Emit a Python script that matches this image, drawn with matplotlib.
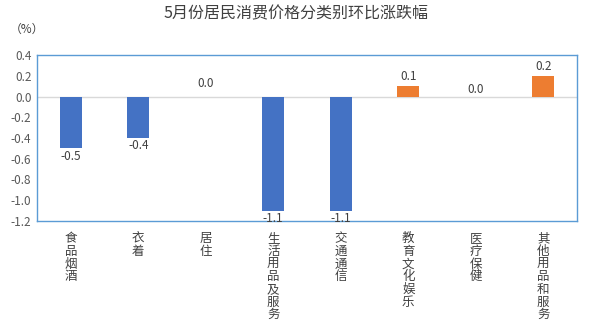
import matplotlib
matplotlib.use("Agg")
import matplotlib.pyplot as plt

plt.rcParams['font.family'] = ['Noto Sans CJK SC', 'DejaVu Sans']

categories = ["食品烟酒", "衣着", "居住", "生活用品及服务", "交通通信", "教育文化娱乐", "医疗保健", "其他用品和服务"]
values = [-0.5, -0.4, 0.0, -1.1, -1.1, 0.1, 0.0, 0.2]
label_offsets = [-1, -1, 1, -1, -1, 1, 0, 1]
yticks = [0.4, 0.2, 0.0, -0.2, -0.4, -0.6, -0.8, -1.0, -1.2]
title = "5月份居民消费价格分类别环比涨跌幅"
unit = "（%）"

blue = "#4472C4"
orange = "#ED7D31"
text_color = "#404040"
frame_color = "#5B9BD5"

fig = plt.figure(figsize=(5.92, 3.22), dpi=100)
ax = fig.add_axes([37/592, 1-221/322, 540/592, 166/322])

x = list(range(len(categories)))
colors = [orange if v > 0 else blue for v in values]
ax.bar(x, values, width=0.33, color=colors, zorder=2)
ax.axhline(0, color="#D9D9D9", lw=1, zorder=1)

ax.set_xlim(-0.5, len(categories) - 0.5)
ax.set_ylim(-1.2, 0.4)
ax.set_yticks(yticks)
ax.set_yticklabels([f"{t:.1f}" for t in yticks], fontsize=8.5, color="#595959")
ax.set_xticks(x)
ax.set_xticklabels(["\n".join(c) for c in categories], fontsize=9,
                   color="#404040", linespacing=0.97, va="top")
ax.tick_params(axis="both", length=0, pad=4)
ax.tick_params(axis="x", pad=8)
for s in ax.spines.values():
    s.set_color(frame_color)
    s.set_linewidth(1)

for xi, v, off in zip(x, values, label_offsets):
    if off < 0:
        ax.annotate(f"{v:.1f}", (xi, v), xytext=(0, -1), textcoords="offset points",
                    ha="center", va="top", fontsize=8.5, color=text_color)
    elif off > 0 and v == 0:
        ax.annotate(f"{v:.1f}", (xi, v), xytext=(0, 5), textcoords="offset points",
                    ha="center", va="bottom", fontsize=8.5, color=text_color)
    else:
        ax.annotate(f"{v:.1f}", (xi, v), xytext=(0, 0.5 if v == 0 else 2),
                    textcoords="offset points",
                    ha="center", va="bottom", fontsize=8.5, color=text_color)

fig.text(0.5, 1-14/322, title, ha="center", va="center", fontsize=11.5, color="#404040")
fig.text(10/592, 1-29/322, unit, ha="left", va="center", fontsize=8.5, color="#404040")

fig.savefig("out.png", dpi=100)
